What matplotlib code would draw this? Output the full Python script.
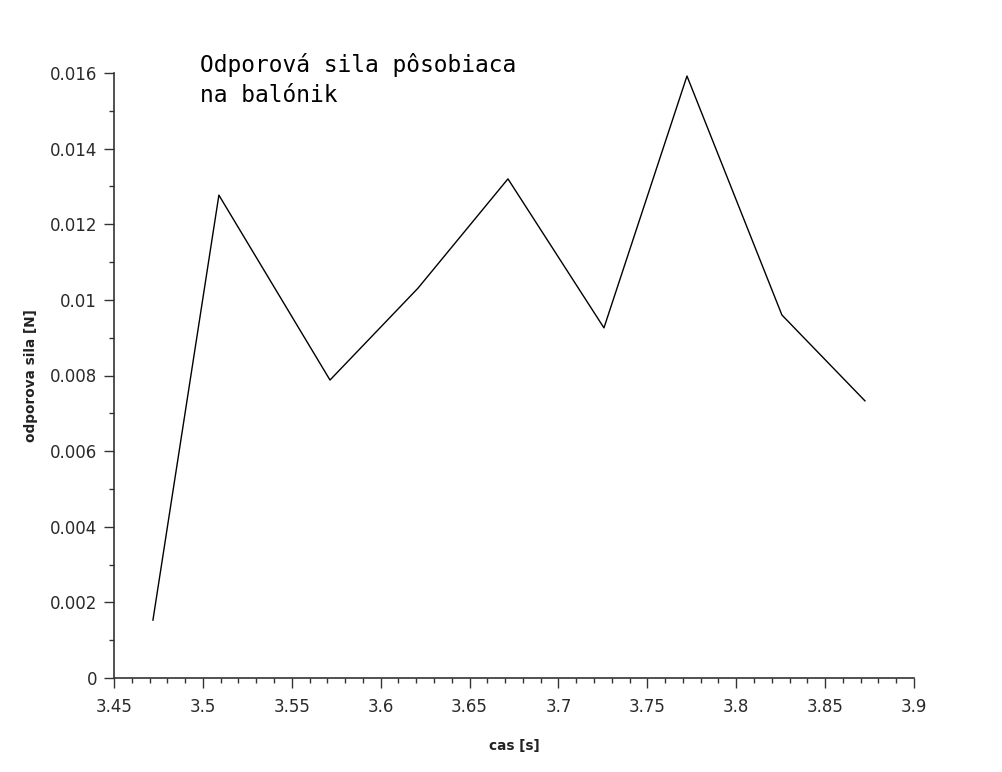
import matplotlib
matplotlib.use("Agg")
import matplotlib.pyplot as plt
from matplotlib.ticker import MultipleLocator, FuncFormatter

# Data
cas = [3.4719, 3.509, 3.5715, 3.621, 3.6716, 3.7256, 3.7723, 3.8257, 3.8724]
sila = [0.00153, 0.01277, 0.00788, 0.01031, 0.0132, 0.00926, 0.01592, 0.0096, 0.00733]
x_ticks = [3.45, 3.5, 3.55, 3.6, 3.65, 3.7, 3.75, 3.8, 3.85, 3.9]
y_ticks = [0, 0.002, 0.004, 0.006, 0.008, 0.01, 0.012, 0.014, 0.016]

fig = plt.figure(figsize=(10.02, 7.72), dpi=100)
ax = fig.add_axes([114/1002, 1-678/772, 800/1002, (678-73)/772])

ax.plot(cas, sila, color="black", linewidth=1.0)

ax.set_xlim(3.45, 3.9)
ax.set_ylim(0, 0.016)
ax.set_xticks(x_ticks)
ax.set_yticks(y_ticks)
ax.xaxis.set_minor_locator(MultipleLocator(0.01))
ax.yaxis.set_minor_locator(MultipleLocator(0.001))
ax.xaxis.set_major_formatter(FuncFormatter(lambda v, p: f"{v:g}"))
ax.yaxis.set_major_formatter(FuncFormatter(lambda v, p: f"{v:g}"))

for s in ["top", "right"]:
    ax.spines[s].set_visible(False)
for s in ["left", "bottom"]:
    ax.spines[s].set_color("#333333")
    ax.spines[s].set_linewidth(1.2)

ax.tick_params(which="major", length=7.2, width=1.0, color="#333333",
               labelsize=12, labelcolor="#2a2a2a", pad=5)
ax.tick_params(axis="x", which="major", pad=7)
ax.tick_params(which="minor", length=3.6, width=1.0, color="#333333")

ax.set_xlabel("cas [s]", fontsize=9.8, fontweight="bold", color="#222222", labelpad=17)
ax.set_ylabel("odporova sila [N]", fontsize=9.8, fontweight="bold", color="#222222", labelpad=8)

fig.text(200/1002, 1-53/772, "Odporová sila pôsobiaca\nna balónik",
         family="DejaVu Sans Mono", fontsize=16.5, va="top", ha="left",
         color="black", linespacing=1.4)

fig.savefig("out.png", dpi=100, facecolor="white")
